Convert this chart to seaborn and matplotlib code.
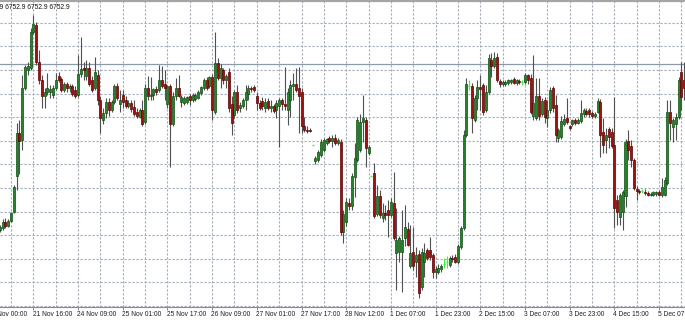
import numpy as np
import matplotlib
matplotlib.use("Agg")
import matplotlib.pyplot as plt
import matplotlib.transforms as mtransforms
from matplotlib import font_manager as fm
import seaborn as sns

# ---------------- data (H1 candles, first visible bar index = 4) ----------------
FIRST_BAR = 4
opens = [
    6670, 6671, 6674, 6672, 6674.5, 6679, 6697, 6718.5, 6715, 6741,
    6750, 6751, 6769, 6772.5, 6754, 6745, 6737, 6739, 6739, 6737.5,
    6741, 6747, 6745.5, 6740, 6743, 6741, 6742, 6740, 6737.5, 6748,
    6751, 6747, 6751, 6745, 6741, 6747.5, 6735, 6725, 6728.5, 6734,
    6730, 6734, 6742, 6733, 6737.5, 6735, 6732, 6733.5, 6731.5, 6729,
    6726.5, 6730, 6724, 6741, 6737, 6737.5, 6740.5, 6740, 6745, 6743,
    6733, 6742, 6723, 6737, 6741, 6734, 6733.5, 6734, 6737, 6735,
    6735.5, 6736, 6738.5, 6741, 6745, 6742, 6746.5, 6729, 6753.5, 6746,
    6750, 6745, 6749, 6733, 6727.5, 6739, 6731, 6732, 6735, 6738,
    6741, 6741.5, 6737, 6733.5, 6734.5, 6731, 6734.5, 6731, 6732, 6730,
    6732, 6735, 6733, 6730, 6735, 6742, 6743, 6741, 6739, 6722,
    6720, 6720, 6712.5, 6704.5, 6705, 6707.5, 6710, 6713.5, 6716, 6714.5,
    6716, 6713.5, 6714, 6669, 6674, 6683.5, 6682, 6696.5, 6705, 6710,
    6724, 6725, 6708.5, 6697, 6698.5, 6678, 6687, 6676, 6678.5, 6680,
    6677.5, 6683.5, 6658.5, 6659, 6659, 6666, 6670.5, 6652, 6659, 6654,
    6658, 6641.5, 6654, 6660, 6660, 6657.5, 6649, 6649, 6650.5, 6653,
    6654, 6652.5, 6656, 6656.5, 6654, 6661.5, 6671, 6717.5, 6742, 6742,
    6725, 6736, 6741.5, 6742.5, 6730, 6739, 6755, 6752, 6756.5, 6744.5,
    6743, 6743, 6743.5, 6744, 6745.5, 6743.5, 6744.5, 6744, 6744, 6747.5,
    6746, 6727, 6726, 6737, 6728, 6735, 6726, 6730, 6741, 6732.5,
    6716, 6716.5, 6723, 6726, 6722, 6723, 6725, 6723.5, 6724.5, 6728,
    6729.5, 6730, 6728.5, 6727, 6729, 6734, 6719, 6715, 6720.5, 6719,
    6712.5, 6685, 6676.5, 6679, 6687, 6714.5, 6712, 6705, 6690.5, 6689.5,
    6689.5, 6689, 6688.5, 6687.5, 6687.5, 6688, 6689, 6687.5, 6687.5, 6693.5,
    6729, 6721.5, 6723, 6726.5, 6749, 6745, 6752.9,
]
highs = [
    6672.5, 6675.5, 6676, 6675.5, 6679, 6692.5, 6723.5, 6725, 6747.5, 6752.5,
    6754, 6771, 6777.5, 6774, 6760, 6747.5, 6741, 6748.5, 6742.5, 6742.5,
    6748.5, 6749, 6746.5, 6744, 6744, 6743, 6743, 6742, 6757.5, 6766.5,
    6754, 6755, 6754, 6747, 6756.5, 6750, 6737, 6731, 6736, 6736,
    6735, 6743, 6743.5, 6740, 6740, 6737, 6735, 6735, 6735, 6731,
    6731, 6735, 6743, 6747, 6746.5, 6741, 6742, 6752.5, 6752, 6750,
    6742.5, 6743, 6739, 6746, 6747.5, 6737.5, 6737, 6737, 6738, 6738.5,
    6738.5, 6740, 6742, 6746, 6746.5, 6747, 6748, 6769, 6756, 6753,
    6751, 6748, 6751, 6737, 6740, 6742.5, 6734, 6736, 6742.5, 6742.5,
    6742, 6742.5, 6739, 6735, 6736.5, 6736, 6736, 6735, 6733, 6735,
    6736, 6736, 6751.5, 6741, 6745, 6748.5, 6751, 6751.5, 6741, 6726.5,
    6722, 6721, 6712.5, 6707, 6710, 6715.5, 6716, 6716, 6717, 6717.5,
    6718, 6716, 6715.5, 6680, 6686, 6686, 6698.5, 6713.5, 6726.5, 6728,
    6737.5, 6726.5, 6712.5, 6697, 6703.5, 6692.5, 6690, 6683.5, 6682.5, 6685,
    6686, 6699, 6681, 6667, 6680, 6682.5, 6674, 6672.5, 6671.5, 6661.5,
    6660, 6661, 6663.5, 6661, 6666.5, 6658.5, 6652, 6653, 6653, 6656,
    6657, 6657, 6657.5, 6658, 6663, 6672, 6720, 6746, 6745, 6743.5,
    6737.5, 6745, 6747.5, 6743.5, 6742.5, 6758, 6758.5, 6759, 6758.5, 6745.5,
    6745, 6745, 6745.5, 6745.5, 6746.5, 6745.5, 6745.5, 6745, 6748.5, 6748,
    6748, 6757.5, 6746, 6746, 6736, 6736.5, 6735, 6741.5, 6742, 6737.5,
    6721, 6727, 6728, 6736, 6722.5, 6725.5, 6726, 6726, 6735, 6731,
    6731, 6731, 6729.5, 6729, 6736, 6735.5, 6726, 6721, 6721.5, 6721,
    6736.5, 6687.5, 6688.5, 6690, 6715.5, 6720, 6715, 6706, 6692, 6690.5,
    6690.5, 6690.5, 6689.5, 6689, 6689.5, 6689.5, 6690, 6696, 6696.5, 6735,
    6735, 6726, 6728.5, 6746.5, 6754, 6754, 6752.9,
]
lows = [
    6669, 6670, 6671, 6671.5, 6674, 6678.5, 6690, 6698, 6710, 6740,
    6747.5, 6750, 6768, 6752.5, 6743, 6731, 6731, 6737.5, 6736, 6736,
    6740, 6744, 6739, 6739, 6739, 6739, 6737, 6736, 6736.5, 6746.5,
    6745, 6745, 6742, 6739, 6740, 6732.5, 6718.5, 6723, 6726, 6727,
    6729, 6733, 6735, 6729, 6731, 6731, 6731, 6729, 6727, 6726,
    6726, 6722, 6723, 6735, 6735, 6735, 6737.5, 6739, 6741, 6735,
    6731, 6701.5, 6722, 6735, 6736.5, 6731.5, 6732.5, 6733, 6732.5, 6734,
    6734.5, 6735.5, 6737.5, 6740, 6740, 6741, 6725, 6728, 6745, 6741,
    6743, 6741, 6729, 6717.5, 6726, 6728.5, 6729, 6731, 6730, 6735,
    6739, 6739, 6730, 6730, 6730, 6729, 6730, 6729, 6728.5, 6726,
    6711.5, 6730, 6730, 6722.5, 6726.5, 6735, 6739, 6718.5, 6718.5, 6719,
    6718.5, 6719, 6712.5, 6703, 6704, 6706.5, 6709, 6712.5, 6713.5, 6711.5,
    6712.5, 6712.5, 6667.5, 6663.5, 6672, 6680, 6680, 6686.5, 6704, 6709,
    6714, 6701.5, 6707.5, 6697, 6676, 6677, 6676, 6674, 6675, 6666.5,
    6676.5, 6665, 6640, 6654, 6639, 6662, 6662, 6651, 6650, 6646.5,
    6636, 6640, 6646.5, 6655, 6655, 6646, 6646, 6648, 6649, 6651,
    6651, 6651.5, 6654, 6653.5, 6653, 6660.5, 6670, 6716.5, 6740, 6718.5,
    6724, 6730, 6730, 6727.5, 6729, 6738, 6746.5, 6751, 6744, 6741.5,
    6742, 6742, 6742.5, 6743, 6743, 6742.5, 6743, 6742.5, 6743, 6743,
    6728, 6725, 6725, 6725, 6727, 6723.5, 6721.5, 6728.5, 6729, 6714,
    6714, 6715.5, 6722, 6723, 6720, 6722, 6722.5, 6723, 6723.5, 6726.5,
    6727, 6726.5, 6726, 6726, 6728.5, 6706.5, 6708.5, 6708.5, 6711, 6711,
    6671, 6672.5, 6672.5, 6670, 6681.5, 6705, 6701.5, 6690, 6685, 6688,
    6688.5, 6687.5, 6687, 6687, 6687, 6687, 6687, 6686.5, 6687, 6692.5,
    6715, 6714, 6715, 6725.5, 6730, 6735, 6752.9,
]
closes = [
    6671.5, 6674, 6672, 6674.5, 6678.5, 6691.5, 6718.5, 6714.5, 6741, 6751.5,
    6752, 6769, 6773, 6754, 6745, 6737, 6739, 6741, 6740.5, 6741,
    6745, 6745, 6740, 6743, 6741, 6742, 6738, 6737, 6748, 6750.5,
    6750, 6751, 6743, 6740, 6749, 6735, 6726, 6728.5, 6734, 6730,
    6734, 6742, 6736, 6735, 6734, 6732, 6733.5, 6730.5, 6728, 6727,
    6730, 6723, 6741, 6737, 6737.5, 6740.5, 6739, 6745, 6742, 6741,
    6742, 6723, 6737, 6741, 6737, 6736.5, 6736, 6736.5, 6735, 6737.5,
    6737.5, 6739, 6741.5, 6745, 6741, 6746.5, 6730, 6753.5, 6746, 6751,
    6745, 6747, 6731, 6723.5, 6739, 6730, 6732.5, 6735, 6739, 6741,
    6740.5, 6740, 6733.5, 6731, 6732, 6734, 6731, 6732, 6729.5, 6733.5,
    6735, 6733, 6732, 6739, 6742.5, 6743, 6740, 6737, 6722, 6720,
    6719.5, 6719.5, 6712.5, 6706, 6709, 6714, 6715, 6715.5, 6714.5, 6716,
    6713.5, 6715, 6669, 6678, 6684, 6682, 6697, 6706, 6725, 6724,
    6726, 6711, 6711.5, 6697, 6677, 6687, 6677.5, 6678.5, 6677.5, 6677.5,
    6684, 6666, 6665, 6666, 6665, 6671.5, 6662.5, 6658.5, 6652, 6657.5,
    6638.5, 6659, 6658.5, 6656, 6656.5, 6649, 6650.5, 6651, 6652, 6653,
    6654, 6656, 6655.5, 6654, 6662, 6671, 6717.5, 6743, 6742, 6726,
    6736, 6741.5, 6740.5, 6729, 6739, 6756, 6752, 6756, 6745, 6743,
    6744, 6744, 6745, 6745, 6743.5, 6745, 6744, 6744, 6747.5, 6745,
    6729, 6733.5, 6737, 6727, 6734.5, 6726.5, 6730, 6740, 6731, 6717.5,
    6720, 6724.5, 6725.5, 6724, 6721, 6725, 6723.5, 6725, 6728.5, 6730,
    6728, 6728, 6727, 6728, 6734.5, 6717.5, 6712.5, 6717.5, 6716.5, 6712,
    6681, 6679, 6687.5, 6689, 6714, 6710, 6705, 6691, 6689.5, 6689,
    6689.5, 6688.5, 6687.5, 6688, 6689, 6689, 6687.5, 6691.5, 6695, 6729,
    6723.5, 6725, 6726.5, 6745, 6736.5, 6741, 6752.9,
]
tick_bars = [0, 16, 32, 48, 64, 80, 96, 112, 128, 144, 160, 176, 192, 208, 224, 240]
tick_labels = ["21 Nov 00:00", "21 Nov 16:00", "24 Nov 09:00", "25 Nov 01:00",
               "25 Nov 17:00", "26 Nov 09:00", "27 Nov 01:00", "27 Nov 17:00",
               "28 Nov 12:00", "1 Dec 07:00", "1 Dec 23:00", "2 Dec 15:00",
               "3 Dec 07:00", "3 Dec 23:00", "4 Dec 15:00", "5 Dec 07:00"]
bid_price = 6752.9
readout = "6752.9 6752.9 6752.9 6752.9"
grid_base = 6750.0
grid_step = 11.8

# ---------------- style ----------------
sns.set_theme(style="white")
avail = {f.name for f in fm.fontManager.ttflist}
family = next((f for f in ["Liberation Sans Narrow", "DejaVu Sans Condensed",
                           "Liberation Sans", "DejaVu Sans"] if f in avail), "DejaVu Sans")
plt.rcParams['font.family'] = [family, 'DejaVu Sans']

W, H = 685, 320
fig = plt.figure(figsize=(W / 100, H / 100), dpi=100)
fig.patch.set_facecolor("white")
ax = fig.add_axes([0, 13 / H, 1, 306 / H])
ax.set_facecolor("white")

# font size so that a date label spans ~40 px like the reference
renderer = fig.canvas.get_renderer()
probe = fig.text(0, 0, "21 Nov 16:00", fontsize=10)
pw = probe.get_window_extent(renderer).width
probe.remove()
fsize = min(5.8, 10 * 39.5 / pw)

o = np.array(opens, float); h = np.array(highs, float)
l = np.array(lows, float); c = np.array(closes, float)
x = np.arange(FIRST_BAR, FIRST_BAR + len(o))
up = c > o
dn = c < o
dj = c == o

XMIN, XMAX = 11.3 / 2.793, (W + 11.3) / 2.793
ax.set_xlim(XMIN, XMAX)
ax.set_ylim(6631.5, 6784.5)

# grid
gdash = (0, (2.0, 1.6))
for gx in np.arange(0, 260, 8):
    ax.axvline(gx, color="#a2abb8", lw=0.8, ls=gdash, zorder=1)
for gy in grid_base + grid_step * np.arange(-11, 4):
    ax.axhline(gy, color="#a2abb8", lw=0.8, ls=gdash, zorder=1)

# bid line
ax.axhline(bid_price, color="#8a9aab", lw=0.9, zorder=2)

# candles
nd = ~dj
ax.vlines(x[nd], l[nd], h[nd], color="#505050", lw=0.8, zorder=3)
bw = 0.72
ax.bar(x[up], c[up] - o[up], bottom=o[up], width=bw, color="#24842a",
       edgecolor="#0f4f12", linewidth=0.5, zorder=4)
ax.bar(x[dn], o[dn] - c[dn], bottom=c[dn], width=bw, color="#a01010",
       edgecolor="#5e0000", linewidth=0.5, zorder=4)
ax.vlines(x[dj], l[dj], h[dj], color="#3cf03c", lw=0.8, zorder=4)
ax.hlines(c[dj], x[dj] - bw / 2, x[dj] + bw / 2, color="#3cf03c", lw=1.0, zorder=4)

# spines
for s in ("left", "right"):
    ax.spines[s].set_visible(False)
ax.spines["top"].set_color("#a5a5a5")
ax.spines["top"].set_linewidth(1.6)
ax.spines["bottom"].set_color("#8a8a8a")
ax.spines["bottom"].set_linewidth(0.8)

ax.set_yticks([])
vis = [t for t in tick_bars if XMIN <= t <= XMAX]
ax.set_xticks(vis)
ax.set_xticklabels([""] * len(vis))
ax.tick_params(axis="x", bottom=True, direction="out", length=2.5, width=0.7,
               color="#8a8a8a", pad=0)

trans = mtransforms.blended_transform_factory(ax.transData, ax.transAxes)
for t, lab in zip(tick_bars, tick_labels):
    ax.text(t - 0.3, -0.014, lab, transform=trans, ha="left", va="top",
            fontsize=fsize, color="#1e1e1e", clip_on=False)

fig.text(70 / W, 1 - 8.8 / H, readout, ha="right", va="baseline",
         fontsize=fsize, color="#111111")

fig.savefig("out.png", dpi=100, facecolor="white")
